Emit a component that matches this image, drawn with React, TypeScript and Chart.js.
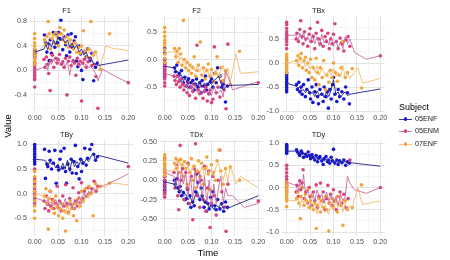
import React, { useEffect, useRef } from "react";
import { Chart, registerables } from "chart.js";

Chart.register(...registerables);

const FONT = '"Liberation Sans", Arial, sans-serif';

const subjects = ["05ENF", "05ENM", "07ENF"];
const pointColors = ["#1616d2", "#d6437f", "#f5a238"];
const lineColors = ["rgba(38,38,140,0.92)", "rgba(192,92,150,0.8)", "rgba(238,184,104,0.85)"];

// Sample times of every subject (shared by all measures)
const time05ENF = [0, 0, 0, 0, 0, 0, 0, 0, 0,
  0.021, 0.023, 0.026, 0.028, 0.031, 0.033, 0.036, 0.04, 0.043, 0.046,
  0.049, 0.051, 0.054, 0.056, 0.06, 0.063, 0.066, 0.068, 0.071, 0.075,
  0.078, 0.08, 0.084, 0.087, 0.089, 0.092, 0.095, 0.098, 0.1, 0.103,
  0.107, 0.11, 0.113, 0.118, 0.122, 0.126, 0.13, 0.134];
const time05ENM = [0, 0, 0, 0, 0, 0, 0, 0, 0, 0,
  0.02, 0.022, 0.025, 0.028, 0.03, 0.033, 0.035, 0.038, 0.041, 0.045,
  0.048, 0.05, 0.053, 0.057, 0.06, 0.063, 0.066, 0.069, 0.072, 0.075,
  0.078, 0.082, 0.085, 0.088, 0.091, 0.094, 0.097, 0.1, 0.103, 0.106,
  0.11, 0.114, 0.118, 0.122, 0.127, 0.131, 0.135, 0.2];
const time07ENF = [0, 0, 0, 0, 0, 0, 0, 0, 0, 0,
  0.021, 0.024, 0.026, 0.029, 0.031, 0.034, 0.037, 0.04, 0.042, 0.045,
  0.048, 0.051, 0.054, 0.057, 0.06, 0.063, 0.066, 0.069, 0.072, 0.076,
  0.079, 0.083, 0.086, 0.09, 0.093, 0.097, 0.1, 0.104, 0.108, 0.112,
  0.116, 0.12, 0.125, 0.13, 0.14, 0.16];

// Times of the subject trend lines
const lineTime05ENF = [0, 0.02, 0.024, 0.028, 0.032, 0.036, 0.04, 0.045, 0.05, 0.055, 0.06, 0.065, 0.07,
  0.075, 0.08, 0.085, 0.09, 0.095, 0.1, 0.105, 0.11, 0.115, 0.12, 0.125, 0.13, 0.135, 0.2];
const lineTime05ENM = [0, 0.02, 0.024, 0.028, 0.032, 0.036, 0.04, 0.045, 0.05, 0.055, 0.06, 0.065, 0.07,
  0.075, 0.08, 0.085, 0.09, 0.095, 0.1, 0.105, 0.11, 0.115, 0.12, 0.125, 0.13, 0.135, 0.145, 0.17, 0.2];
const lineTime07ENF = [0, 0.02, 0.024, 0.028, 0.032, 0.036, 0.04, 0.045, 0.05, 0.055, 0.06, 0.065, 0.07,
  0.075, 0.08, 0.085, 0.09, 0.095, 0.1, 0.105, 0.11, 0.115, 0.12, 0.125, 0.13, 0.135, 0.14, 0.152, 0.162, 0.2];

// ---- F1 ----
const F1_05ENF = [0.34, 0.32, 0.3, 0.29, 0.27, 0.26, 0.24, 0.22, 0.31,
  0.58, 0.45, 0.3, 0.44, 0.16, 0.5, 0.28, 0.62, 0.38, 0.6,
  0.45, 0.62, 0.52, 0.82, 0.34, 0.55, 0.42, 0.24, 0.58, 0.3,
  0.6, 0.38, 0.48, 0.55, 0.15, 0.06, 0.4, 0.27, 0.0, -0.15,
  0.3, 0.22, 0.35, 0.16, 0.28, -0.17, 0.05, 0.12];
const F1_05ENM = [0.2, 0.12, 0.08, 0.04, 0.0, -0.04, -0.08, -0.12, -0.15, -0.27,
  0.18, 0.05, 0.22, 0.1, -0.05, -0.33, 0.16, 0.25, 0.05, 0.2,
  0.12, 0.18, 0.26, 0.1, 0.14, 0.05, 0.2, -0.4, 0.15, 0.22,
  0.08, 0.16, 0.12, -0.08, 0.2, 0.1, 0.15, -0.5, 0.12, 0.18,
  0.05, 0.14, 0.2, 0.08, 0.1, -0.1, -0.62, -0.2];
const F1_07ENF = [0.6, 0.52, 0.45, 0.4, 0.35, 0.3, 0.25, 0.2, 0.15, 0.1,
  0.5, 0.42, 0.56, 0.8, 0.6, 0.35, 0.52, 0.58, 0.45, 0.62,
  0.55, 0.4, 0.7, 0.6, 0.5, 0.66, 0.45, 0.55, 0.38, 0.5,
  0.42, 0.35, 0.45, 0.3, 0.38, 0.28, 0.4, 0.65, 0.3, 0.22,
  0.35, 0.8, 0.25, 0.3, 0.02, 0.6];
const F1_line05ENF = [0.3, 0.35, 0.42, 0.34, 0.45, 0.38, 0.5, 0.42, 0.55, 0.48, 0.52, 0.45, 0.5,
  0.38, 0.45, 0.36, 0.42, 0.3, 0.35, 0.25, 0.3, 0.2, 0.22, 0.12, 0.1, 0.08, 0.17];
const F1_line05ENM = [0.0, 0.05, 0.12, 0.0, 0.15, 0.1, 0.18, 0.12, 0.2, 0.1, 0.16, 0.05, 0.15,
  -0.08, 0.15, 0.1, 0.14, 0.05, 0.12, 0.08, 0.1, 0.05, 0.06, 0.02, -0.05, -0.17, 0.02, -0.09, -0.2];
const F1_line07ENF = [0.22, 0.42, 0.5, 0.45, 0.55, 0.5, 0.6, 0.55, 0.62, 0.56, 0.6, 0.5, 0.55,
  0.45, 0.5, 0.4, 0.45, 0.35, 0.42, 0.33, 0.38, 0.28, 0.35, 0.25, 0.3, 0.18, 0.05, 0.4, 0.37, 0.32];

// ---- F2 ----
const F2_05ENF = [0.2, 0.12, 0.0, -0.08, -0.12, -0.18, -0.22, -0.28, -0.31,
  -0.15, -0.22, -0.1, -0.3, -0.25, -0.38, -0.2, -0.42, -0.32, -0.48,
  -0.4, -0.35, -0.5, -0.42, -0.38, -0.55, -0.45, -0.35, -0.5, -0.42,
  -0.6, -0.38, -0.48, -0.3, -0.55, -0.45, -0.62, -0.4, -0.35, -0.5,
  -0.25, -0.42, -0.15, -0.3, -0.5, -0.45, -0.77, -0.48];
const F2_05ENM = [0.02, -0.05, -0.1, -0.15, -0.2, -0.25, -0.3, -0.35, -0.42, -0.48,
  -0.3, -0.38, -0.45, -0.3, -0.4, -0.5, -0.35, -0.45, -0.55, -0.48,
  -0.6, -0.42, -0.65, -0.5, -0.58, -0.45, -0.7, 0.26, -0.55, -0.62,
  -0.48, -0.7, -0.58, -0.5, -0.75, -0.62, -0.55, -0.78, -0.72, 0.23,
  -0.6, -0.5, -0.68, -0.4, -0.55, -0.89, 0.28, -0.42];
const F2_07ENF = [0.58, 0.5, 0.42, 0.35, 0.3, 0.25, 0.18, 0.1, 0.02, -0.05,
  0.2, 0.05, 0.15, -0.05, 0.2, 0.1, -0.1, 0.71, 0.0, -0.15,
  -0.05, -0.2, -0.1, -0.25, -0.15, 0.05, -0.3, -0.2, -0.1, 0.32,
  -0.28, -0.15, -0.35, -0.2, -0.08, -0.3, -0.18, -0.4, -0.25, 0.05,
  -0.3, -0.15, -0.38, -0.2, -0.45, 0.15];
const F2_line05ENF = [-0.12, -0.15, -0.2, -0.22, -0.3, -0.28, -0.38, -0.35, -0.45, -0.4, -0.45, -0.42, -0.48,
  -0.42, -0.5, -0.42, -0.48, -0.4, -0.45, -0.38, -0.35, -0.3, -0.42, -0.55, -0.5, -0.47, -0.45];
const F2_line05ENM = [-0.25, -0.3, -0.35, -0.3, -0.42, -0.38, -0.5, -0.45, -0.55, -0.5, -0.58, -0.45, -0.6,
  -0.55, -0.62, -0.52, -0.6, -0.55, -0.65, -0.5, -0.58, -0.6, -0.55, -0.68, -0.2, -0.3, -0.55, -0.48, -0.4];
const F2_line07ENF = [0.12, 0.15, 0.08, 0.12, 0.0, 0.05, -0.05, -0.1, -0.05, -0.15, -0.1, -0.2, -0.12,
  -0.22, -0.15, -0.25, -0.15, -0.3, -0.2, -0.3, -0.18, -0.32, -0.2, -0.1, -0.35, -0.15, -0.42, 0.1, -0.25, -0.22];

// ---- TBx ----
const TBx_05ENF = [-0.2, -0.25, -0.3, -0.35, -0.4, -0.45, -0.5, -0.55, -0.6,
  -0.45, -0.55, -0.4, -0.6, -0.5, -0.65, -0.45, -0.7, -0.55, -0.35,
  -0.62, -0.75, -0.5, -0.82, -0.6, -0.45, -0.7, -0.85, -0.55, -0.65,
  -0.8, -0.5, -0.7, -0.6, -0.94, -0.55, -0.75, -0.45, -0.3, -0.65,
  -0.8, -0.55, -0.7, -0.6, -0.75, -0.5, -0.62, -0.85];
const TBx_05ENM = [0.85, 0.8, 0.72, 0.65, 0.6, 0.55, 0.5, 0.45, 0.38, 0.3,
  0.5, 0.62, 0.45, 0.7, 0.88, 0.55, 0.4, 0.65, 0.5, 0.35,
  0.6, 0.72, 0.45, 0.55, 0.3, 0.62, 0.85, 0.5, 0.4, 0.68,
  0.35, 0.55, 0.45, 0.62, 0.3, 0.5, 0.4, 0.6, 0.82, 0.45,
  0.3, 0.52, 0.4, 0.25, 0.48, 0.55, 0.35, 0.15];
const TBx_07ENF = [0.18, 0.12, 0.08, 0.04, 0.0, -0.04, -0.08, -0.12, -0.16, -0.2,
  0.05, 0.15, -0.05, 0.1, 0.2, -0.1, 0.05, 0.12, -0.15, 0.0,
  -0.2, 0.08, -0.3, -0.1, -0.35, 0.1, -0.2, -0.45, -0.1, -0.3,
  0.05, -0.56, -0.25, -0.4, -0.15, -0.3, 0.0, -0.2, -0.38, -0.25,
  -0.1, 0.45, -0.3, -0.2, -0.12, -0.52];
const TBx_line05ENF = [-0.42, -0.48, -0.52, -0.5, -0.58, -0.55, -0.62, -0.55, -0.65, -0.6, -0.7, -0.58, -0.68,
  -0.62, -0.72, -0.6, -0.7, -0.55, -0.35, -0.65, -0.6, -0.72, -0.65, -0.6, -0.68, -0.65, -0.54];
const TBx_line05ENM = [0.58, 0.58, 0.45, 0.62, 0.5, 0.65, 0.45, 0.55, 0.42, 0.6, 0.4, 0.55, 0.35,
  0.6, 0.42, 0.5, 0.38, 0.55, 0.35, 0.48, 0.32, 0.45, 0.3, 0.55, 0.4, 0.5, 0.22, 0.08, 0.15];
const TBx_line07ENF = [0.0, 0.05, -0.02, 0.08, 0.0, 0.05, -0.08, 0.0, -0.12, -0.05, -0.2, -0.05, -0.25,
  -0.1, -0.2, -0.3, -0.15, -0.25, -0.1, -0.28, -0.2, -0.3, -0.05, -0.3, -0.2, -0.32, -0.25, -0.1, -0.42, -0.32];

// ---- TBy ----
const TBy_05ENF = [1.0, 0.95, 0.9, 0.85, 0.8, 0.75, 0.7, 0.65, 0.6,
  0.9, 0.31, 0.6, 0.55, 0.86, 0.68, 0.5, 0.62, 0.88, 0.21,
  0.55, 0.48, 0.7, 0.86, 0.52, 0.92, 0.45, 0.21, 0.6, 0.5,
  0.7, 0.42, 0.65, 0.98, 0.41, 0.55, 0.3, 0.7, 0.45, 0.62,
  0.92, 0.58, 0.72, 0.9, 1.0, 0.8, 0.68, 0.75];
const TBy_05ENM = [0.5, 0.3, 0.2, 0.1, 0.05, 0.0, -0.05, -0.1, -0.15, -0.2,
  -0.15, -0.3, -0.05, -0.22, -0.35, 0.05, -0.25, -0.12, -0.3, -0.2,
  0.15, -0.28, -0.15, -0.35, -0.05, -0.25, 0.18, -0.2, -0.38, -0.1,
  -0.22, 0.12, -0.3, -0.15, -0.25, 0.02, -0.18, 0.22, -0.1, 0.05,
  -0.05, 0.12, 0.0, 0.1, 0.25, 0.05, 0.15, 0.55];
const TBy_07ENF = [0.45, 0.35, 0.25, 0.15, 0.05, -0.05, -0.15, -0.25, -0.35, -0.5,
  -0.05, 0.1, -0.2, -0.72, -0.1, 0.05, -0.3, -0.15, -0.4, -0.05,
  -0.25, -0.45, -0.3, -0.2, -0.5, -0.35, -0.76, -0.25, -0.4, -0.15,
  -0.3, -0.45, -0.2, -0.55, -0.1, -0.25, 0.05, -0.15, 0.1, -0.05,
  0.15, 0.0, -0.45, 0.2, 0.14, 0.21];
const TBy_line05ENF = [0.7, 0.68, 0.66, 0.55, 0.65, 0.6, 0.62, 0.52, 0.6, 0.48, 0.62, 0.5, 0.68,
  0.45, 0.7, 0.55, 0.65, 0.58, 0.72, 0.62, 0.7, 0.65, 0.75, 0.82, 0.68, 0.78, 0.62];
const TBy_line05ENM = [-0.08, -0.15, -0.2, -0.12, -0.28, -0.18, -0.22, -0.12, -0.25, -0.15, -0.28, -0.1, -0.25,
  -0.18, -0.3, -0.12, -0.2, -0.05, -0.15, 0.02, -0.08, 0.05, 0.0, 0.12, 0.05, 0.15, 0.15, 0.26, 0.4];
const TBy_line07ENF = [0.0, -0.05, -0.1, -0.05, -0.2, -0.15, -0.25, -0.2, -0.35, -0.4, -0.3, -0.42, -0.25,
  -0.38, -0.2, -0.35, -0.15, -0.3, -0.05, -0.2, 0.0, -0.1, 0.08, 0.0, 0.12, 0.05, 0.2, 0.12, 0.22, 0.18];

// ---- TDx ----
const TDx_05ENF = [0.14, 0.05, 0.0, -0.02, -0.05, -0.08, -0.1, -0.13, -0.16,
  0.0, -0.05, 0.02, -0.1, -0.15, -0.08, -0.2, -0.16, -0.25, -0.24,
  -0.12, -0.3, -0.2, -0.35, -0.28, -0.33, -0.15, 0.08, -0.03, -0.25,
  -0.1, -0.2, -0.35, -0.28, -0.4, -0.3, -0.37, -0.22, -0.32, -0.15,
  -0.33, -0.38, -0.25, -0.37, -0.3, -0.4, -0.28, -0.35];
const TDx_05ENM = [0.28, 0.2, 0.12, 0.05, 0.0, -0.05, -0.1, -0.15, -0.18, -0.22,
  0.1, -0.1, 0.2, -0.2, -0.38, 0.45, 0.0, 0.15, -0.25, 0.1,
  -0.1, 0.22, -0.3, 0.05, -0.51, 0.15, 0.47, -0.2, 0.1, -0.35,
  0.0, -0.25, 0.18, -0.4, -0.1, 0.12, -0.61, -0.3, 0.05, -0.2,
  -0.45, 0.0, 0.39, -0.15, -0.35, -0.66, -0.05, -0.27];
const TDx_07ENF = [0.33, 0.3, 0.26, 0.22, 0.2, 0.17, 0.14, 0.1, 0.08, 0.06,
  0.22, 0.28, 0.15, 0.25, 0.1, 0.27, 0.2, 0.05, 0.24, 0.15,
  -0.05, 0.2, 0.1, 0.28, 0.0, 0.18, -0.1, 0.12, 0.25, 0.05,
  0.22, -0.05, 0.15, 0.3, 0.08, -0.12, 0.2, 0.1, 0.0, 0.25,
  0.39, 0.12, -0.05, 0.15, 0.17, 0.0];
const TDx_line05ENF = [-0.02, -0.05, -0.1, -0.08, -0.15, -0.12, -0.2, -0.18, -0.25, -0.22, -0.3, -0.2, -0.15,
  -0.25, -0.2, -0.3, -0.28, -0.35, -0.33, -0.38, -0.32, -0.35, -0.3, -0.36, -0.33, -0.36, -0.2];
const TDx_line05ENM = [0.1, 0.05, -0.1, 0.12, -0.15, 0.15, -0.05, 0.1, -0.2, 0.05, -0.25, 0.15, -0.1,
  0.08, -0.25, 0.05, -0.3, 0.0, -0.35, -0.05, -0.3, -0.1, 0.05, -0.3, -0.1, -0.2, -0.2, -0.35, -0.3];
const TDx_line07ENF = [0.12, 0.12, 0.22, 0.15, 0.25, 0.18, 0.2, 0.12, 0.18, 0.1, 0.2, 0.05, 0.15,
  0.1, 0.18, 0.05, 0.2, 0.08, 0.15, 0.05, 0.18, 0.22, 0.1, 0.0, 0.12, -0.02, 0.2, -0.05, 0.05, -0.1];

// ---- TDy ----
const TDy_05ENF = [0.97, 0.94, 0.92, 0.9, 0.87, 0.85, 0.82, 0.8, 0.77,
  0.85, 0.8, 0.76, 0.72, 0.82, 0.78, 0.68, 0.75, 0.7, 0.8,
  0.72, 0.65, 0.74, 0.68, 0.62, 0.72, 0.58, 0.66, 0.7, 0.6,
  0.52, 0.65, 0.7, 0.58, 0.62, 0.55, 0.68, 0.6, 0.86, 0.55,
  0.62, 0.52, 0.6, 0.56, 0.62, 0.5, 0.58, 0.55];
const TDy_05ENM = [0.5, 0.42, 0.33, 0.25, 0.18, 0.12, 0.07, 0.02, -0.05, -0.1,
  -0.1, 0.05, -0.2, 0.15, -0.05, 0.1, 0.4, -0.25, -0.1, -0.35,
  0.0, -0.2, -0.4, -0.1, -0.3, 0.06, -0.45, -0.2, 0.1, -0.3,
  -0.1, -0.5, -0.25, 0.05, -0.35, -0.15, -0.4, -0.05, -0.3, -0.5,
  -0.2, -0.1, -0.35, -0.15, -0.45, -0.25, 0.62, 0.0];
const TDy_07ENF = [0.12, 0.05, 0.0, -0.05, -0.1, -0.15, -0.2, -0.25, -0.3, -0.43,
  -0.25, -0.1, -0.35, -0.7, -0.2, 0.0, -0.4, -0.15, -0.3, -0.05,
  -0.45, -0.3, -0.2, -0.5, -0.35, -0.92, -0.4, -0.25, -0.55, -0.3,
  -0.45, -0.2, -0.5, -0.98, -0.35, -0.25, -0.45, -0.3, -0.55, -0.2,
  -0.4, -0.85, -0.3, -0.5, -0.45, 0.06];
const TDy_line05ENF = [0.82, 0.82, 0.78, 0.8, 0.75, 0.77, 0.72, 0.74, 0.7, 0.72, 0.66, 0.68, 0.64,
  0.66, 0.6, 0.64, 0.6, 0.62, 0.58, 0.6, 0.56, 0.6, 0.57, 0.58, 0.55, 0.56, 0.48];
const TDy_line05ENM = [0.12, 0.05, -0.1, 0.1, -0.05, 0.3, -0.15, -0.05, -0.25, -0.1, -0.3, -0.05, -0.25,
  -0.15, -0.35, -0.1, -0.3, -0.15, -0.35, -0.2, -0.4, -0.15, -0.3, -0.2, 0.25, 0.1, -0.05, -0.13, 0.0];
const TDy_line07ENF = [-0.28, -0.3, -0.22, -0.45, -0.25, -0.35, -0.2, -0.4, -0.3, -0.5, -0.35, -0.6, -0.3,
  -0.45, -0.25, -0.5, -0.6, -0.35, -0.5, -0.3, -0.45, -0.25, -0.55, -0.35, -0.5, -0.4, -0.45, 0.0, -0.38, -0.3];

// Axis breaks
const xBreaks = [0, 0.05, 0.1, 0.15, 0.2];
const xMinorBreaks = [0.025, 0.075, 0.125, 0.175];

type Panel = {
  title: string;
  col: number;
  row: number;
  yMin: number;
  yMax: number;
  yBreaks: number[];
  yMinor: number[];
  digits: number;
  points: number[][];
  lines: number[][];
};

const panels: Panel[] = [
  { title: "F1", col: 0, row: 0, yMin: -0.68, yMax: 0.89, yBreaks: [-0.4, 0, 0.4, 0.8], yMinor: [-0.6, -0.2, 0.2, 0.6], digits: 1,
    points: [F1_05ENF, F1_05ENM, F1_07ENF], lines: [F1_line05ENF, F1_line05ENM, F1_line07ENF] },
  { title: "F2", col: 1, row: 0, yMin: -0.95, yMax: 0.79, yBreaks: [-0.5, 0, 0.5], yMinor: [-0.75, -0.25, 0.25, 0.75], digits: 1,
    points: [F2_05ENF, F2_05ENM, F2_07ENF], lines: [F2_line05ENF, F2_line05ENM, F2_line07ENF] },
  { title: "TBx", col: 2, row: 0, yMin: -1.02, yMax: 0.98, yBreaks: [-1, -0.5, 0, 0.5], yMinor: [-0.75, -0.25, 0.25, 0.75], digits: 1,
    points: [TBx_05ENF, TBx_05ENM, TBx_07ENF], lines: [TBx_line05ENF, TBx_line05ENM, TBx_line07ENF] },
  { title: "TBy", col: 0, row: 1, yMin: -0.86, yMax: 1.09, yBreaks: [-0.5, 0, 0.5, 1], yMinor: [-0.75, -0.25, 0.25, 0.75], digits: 1,
    points: [TBy_05ENF, TBy_05ENM, TBy_07ENF], lines: [TBy_line05ENF, TBy_line05ENM, TBy_line07ENF] },
  { title: "TDx", col: 1, row: 1, yMin: -0.72, yMax: 0.52, yBreaks: [-0.5, -0.25, 0, 0.25, 0.5], yMinor: [-0.625, -0.375, -0.125, 0.125, 0.375], digits: 2,
    points: [TDx_05ENF, TDx_05ENM, TDx_07ENF], lines: [TDx_line05ENF, TDx_line05ENM, TDx_line07ENF] },
  { title: "TDy", col: 2, row: 1, yMin: -1.09, yMax: 1.07, yBreaks: [-1, -0.5, 0, 0.5, 1], yMinor: [-0.75, -0.25, 0.25, 0.75], digits: 1,
    points: [TDy_05ENF, TDy_05ENM, TDy_07ENF], lines: [TDy_line05ENF, TDy_line05ENM, TDy_line07ENF] },
];

const sampleTimes = [time05ENF, time05ENM, time07ENF];
const lineTimes = [lineTime05ENF, lineTime05ENM, lineTime07ENF];

// Layout of the facet grid
const COL_LEFT = [30, 160, 282];
const ROW_TOP = [16, 140];
const PANEL_W = 103;
const PANEL_H = 96;
const Y_AXIS_W = 30;
const X_AXIS_H = 14;
const STRIP_H = 14;
const RIGHT_PAD = 10;
const CANVAS_W = Y_AXIS_W + PANEL_W + RIGHT_PAD;
const CANVAS_H = STRIP_H + PANEL_H + X_AXIS_H;

const has = (arr: number[], v: number) => arr.some((a) => Math.abs(a - v) < 1e-9);
const pairs = (xs: number[], ys: number[]) => ys.map((y, i) => ({ x: xs[i], y }));

function fmt(v: number, digits: number) {
  const s = Math.abs(v) < 1e-9 ? 0 : v;
  return s.toFixed(digits);
}

function buildConfig(p: Panel): any {
  const datasets: any[] = [];
  p.lines.forEach((vals, i) => {
    datasets.push({
      type: "line",
      label: subjects[i] + " trend",
      data: pairs(lineTimes[i], vals),
      borderColor: lineColors[i],
      borderWidth: 1,
      pointRadius: 0,
      tension: 0,
      fill: false,
      order: 0,
    });
  });
  p.points.forEach((vals, i) => {
    datasets.push({
      type: "scatter",
      label: subjects[i],
      data: pairs(sampleTimes[i], vals),
      backgroundColor: pointColors[i],
      borderColor: pointColors[i],
      pointRadius: 1.8,
      pointBorderWidth: 0,
      showLine: false,
      order: 3 - i,
    });
  });

  const xAll = [...xBreaks, ...xMinorBreaks].sort((a, b) => a - b);
  const yAll = [...p.yBreaks, ...p.yMinor].sort((a, b) => a - b);
  const gridColor = (major: number[]) => (ctx: any) =>
    ctx.tick && has(major, ctx.tick.value) ? "#e4e4e4" : "#f0f0f0";
  const gridWidth = (major: number[]) => (ctx: any) =>
    ctx.tick && has(major, ctx.tick.value) ? 1 : 0.6;
  const tickFont = { family: FONT, size: 7.2 };

  return {
    type: "scatter",
    data: { datasets },
    options: {
      responsive: false,
      animation: false,
      devicePixelRatio: 1,
      events: [],
      layout: { padding: { left: 0, right: RIGHT_PAD, top: 0, bottom: 0 } },
      plugins: {
        legend: { display: false },
        tooltip: { enabled: false },
        title: {
          display: true,
          text: p.title,
          color: "#1a1a1a",
          font: { family: FONT, size: 7.4, weight: "normal", lineHeight: "10px" },
          padding: { top: 4, bottom: 0 },
        },
      },
      scales: {
        x: {
          type: "linear",
          min: -0.01,
          max: 0.21,
          afterBuildTicks: (s: any) => {
            s.ticks = xAll.map((v) => ({ value: v }));
          },
          afterFit: (s: any) => {
            s.height = X_AXIS_H;
          },
          ticks: {
            autoSkip: false,
            maxRotation: 0,
            padding: 2,
            color: "#4d4d4d",
            font: tickFont,
            callback: (v: number) => (has(xBreaks, v) ? fmt(v, 2) : ""),
          },
          grid: { drawTicks: false, color: gridColor(xBreaks), lineWidth: gridWidth(xBreaks) },
          border: { display: false },
        },
        y: {
          type: "linear",
          min: p.yMin,
          max: p.yMax,
          afterBuildTicks: (s: any) => {
            s.ticks = yAll.map((v) => ({ value: v }));
          },
          afterFit: (s: any) => {
            s.width = Y_AXIS_W;
          },
          ticks: {
            autoSkip: false,
            padding: 3,
            color: "#4d4d4d",
            font: tickFont,
            callback: (v: number) => (has(p.yBreaks, v) ? fmt(v, p.digits) : ""),
          },
          grid: { drawTicks: false, color: gridColor(p.yBreaks), lineWidth: gridWidth(p.yBreaks) },
          border: { display: false },
        },
      },
    },
  };
}

function FacetPanel({ panel }: { panel: Panel }) {
  const ref = useRef<HTMLCanvasElement | null>(null);
  useEffect(() => {
    if (!ref.current) return;
    const chart = new Chart(ref.current, buildConfig(panel));
    return () => chart.destroy();
  }, [panel]);
  const left = COL_LEFT[panel.col] - Y_AXIS_W;
  const top = ROW_TOP[panel.row] - STRIP_H;
  return (
    <canvas
      ref={ref}
      width={CANVAS_W}
      height={CANVAS_H}
      style={{ position: "absolute", left, top, width: CANVAS_W, height: CANVAS_H }}
    />
  );
}

function LegendKey({ index, top }: { index: number; top: number }) {
  return (
    <div style={{ position: "absolute", left: 399, top, width: 50, height: 12 }}>
      <div style={{ position: "absolute", left: 0, top: 5.5, width: 13, height: 1, background: lineColors[index] }} />
      <div
        style={{
          position: "absolute",
          left: 4.5,
          top: 4.3,
          width: 3.6,
          height: 3.6,
          borderRadius: "50%",
          background: pointColors[index],
        }}
      />
      <div style={{ position: "absolute", left: 16, top: 0, fontSize: 7.2, lineHeight: "12px", color: "#1a1a1a", whiteSpace: "nowrap" }}>
        {subjects[index]}
      </div>
    </div>
  );
}

export default function App() {
  return (
    <div
      style={{
        position: "absolute",
        left: 0,
        top: 0,
        width: 450,
        height: 260,
        background: "#ffffff",
        overflow: "hidden",
        fontFamily: FONT,
      }}
    >
      {panels.map((p) => (
        <FacetPanel key={p.title} panel={p} />
      ))}
      <div
        style={{
          position: "absolute",
          left: 7,
          top: 126,
          transform: "translate(-50%, -50%) rotate(-90deg)",
          fontSize: 9.5,
          color: "#000",
          whiteSpace: "nowrap",
        }}
      >
        Value
      </div>
      <div
        style={{
          position: "absolute",
          left: 208,
          top: 252,
          transform: "translate(-50%, -50%)",
          fontSize: 9.5,
          color: "#000",
          whiteSpace: "nowrap",
        }}
      >
        Time
      </div>
      <div style={{ position: "absolute", left: 399, top: 101, fontSize: 9, lineHeight: "12px", color: "#000" }}>Subject</div>
      <LegendKey index={0} top={113} />
      <LegendKey index={1} top={125} />
      <LegendKey index={2} top={138} />
    </div>
  );
}
